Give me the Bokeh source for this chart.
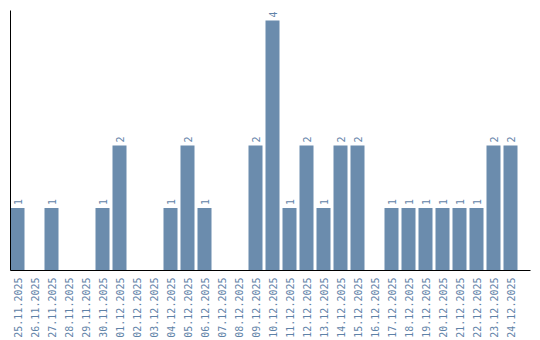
from math import pi
from bokeh.plotting import figure
from bokeh.models import ColumnDataSource, Range1d, FixedTicker
from bokeh.core.properties import value
from bokeh.embed import file_html
from bokeh.resources import INLINE

dates = ["25.11.2025", "26.11.2025", "27.11.2025", "28.11.2025", "29.11.2025",
         "30.11.2025", "01.12.2025", "02.12.2025", "03.12.2025", "04.12.2025",
         "05.12.2025", "06.12.2025", "07.12.2025", "08.12.2025", "09.12.2025",
         "10.12.2025", "11.12.2025", "12.12.2025", "13.12.2025", "14.12.2025",
         "15.12.2025", "16.12.2025", "17.12.2025", "18.12.2025", "19.12.2025",
         "20.12.2025", "21.12.2025", "22.12.2025", "23.12.2025", "24.12.2025"]
counts = [1, 0, 1, 0, 0, 1, 2, 0, 0, 1, 2, 1, 0, 0, 2, 4, 1, 2, 1, 2, 2, 0,
          1, 1, 1, 1, 1, 1, 2, 2]

idx = list(range(len(dates)))
src = ColumnDataSource(dict(x=idx, top=counts))
nz = [i for i in idx if counts[i] > 0]
lsrc = ColumnDataSource(dict(x=nz, y=[counts[i] for i in nz], lab=[str(counts[i]) for i in nz]))

BAR = "#6b8cad"
TXT = "#5f83a8"
FONT = "DejaVu Sans Mono"

p = figure(width=540, height=340, output_backend="svg", toolbar_location=None,
           x_range=Range1d(-7 / 17, 513 / 17), y_range=Range1d(0, 4.16),
           min_border_left=10, min_border_right=10, min_border_top=10,
           min_border_bottom=70)
p.outline_line_color = None
p.grid.visible = False
p.background_fill_color = "white"
p.border_fill_color = "white"

p.vbar(x="x", top="top", bottom=0, width=14 / 17, source=src,
       fill_color=BAR, line_color=None)

p.text(x="x", y="y", text="lab", source=lsrc, angle=pi / 2, y_offset=-3,
       text_align="left", text_baseline="middle", text_color=TXT,
       text_font=value(FONT), text_font_size="10px")

xa = p.xaxis[0]
xa.ticker = FixedTicker(ticks=idx)
xa.major_label_overrides = {i: d for i, d in enumerate(dates)}
xa.major_label_orientation = pi / 2
xa.major_tick_line_color = None
xa.minor_tick_line_color = None
xa.major_tick_out = 0
xa.major_label_standoff = 7
xa.major_label_text_font = FONT
xa.major_label_text_font_size = "10px"
xa.major_label_text_color = TXT
xa.axis_line_color = "black"

ya = p.yaxis[0]
ya.ticker = FixedTicker(ticks=[])
ya.major_tick_line_color = None
ya.minor_tick_line_color = None
ya.major_tick_out = 0
ya.major_label_standoff = 0
ya.axis_line_color = "black"

open("out.html", "w").write(file_html(p, INLINE))
